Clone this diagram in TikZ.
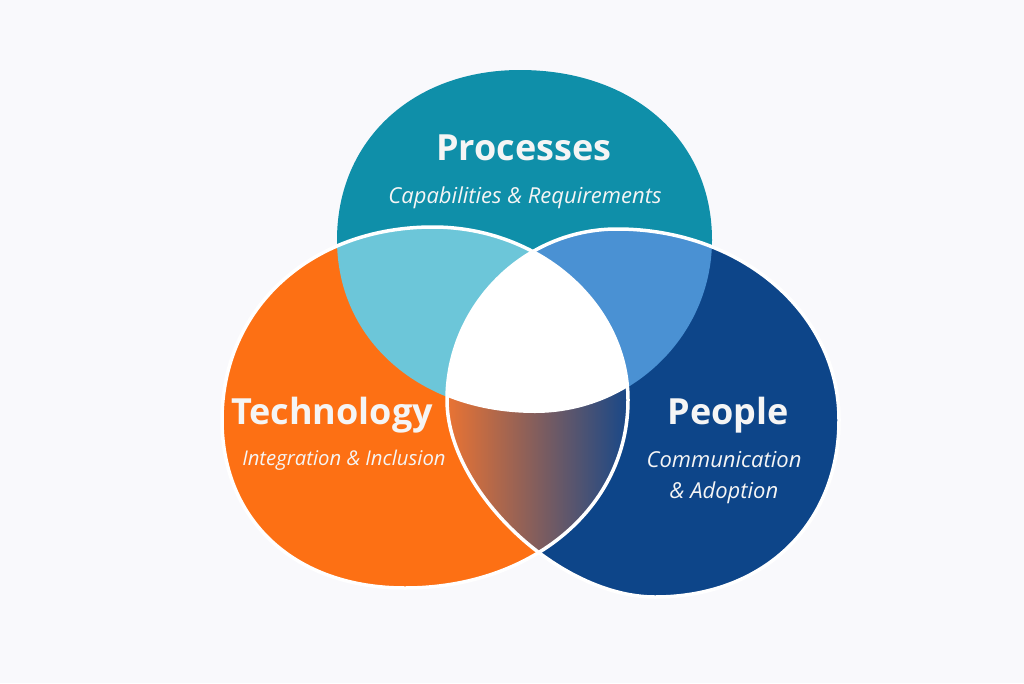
\documentclass[tikz,border=0pt]{standalone}
\usepackage{fontspec}
\setmainfont{Open Sans}
\definecolor{bgc}{HTML}{F9F9FC}
\definecolor{cProc}{HTML}{0F8FA9}
\definecolor{cTech}{HTML}{FD7014}
\definecolor{cPeop}{HTML}{0D4589}
\definecolor{cLight}{HTML}{6CC6D9}
\definecolor{cMed}{HTML}{4A91D3}
\definecolor{gL}{HTML}{F27530}
\definecolor{gM}{HTML}{7E5C7E}
\definecolor{gR}{HTML}{10468B}
\definecolor{txt}{HTML}{F5F5F5}
\begin{document}
\begin{tikzpicture}[x=1pt,y=-1pt,
  title/.style={text=txt, font=\fontsize{36}{40}\selectfont\bfseries, anchor=base, inner sep=0pt},
  sub/.style={text=txt, font=\fontsize{22}{26}\selectfont\itshape, anchor=base, inner sep=0pt},
  sepline/.style={draw=white, line width=3.5pt}]
\useasboundingbox (0,0) rectangle (1024,683);
\fill[bgc] (0,0) rectangle (1024,683);
\def\TopShape{(520,70) .. controls (633.3,70) and (712,139.7) .. (712,240)
  .. controls (712,335.2) and (632.4,413) .. (535,413)
  .. controls (420.2,413) and (337,340.3) .. (337,240)
  .. controls (337,140) and (413,70) .. cycle}
\def\LeftShape{(433,227) .. controls (540.25,227) and (628,304.85) .. (628,400)
  .. controls (628,507.2) and (532.1,588) .. (405,588)
  .. controls (295.2,588) and (222,520.8) .. (222,420)
  .. controls (222,308.1) and (310.6,227) .. cycle}
\def\RightShape{(617,229) .. controls (741.3,229) and (839,313) .. (839,420)
  .. controls (839,524.4) and (763.6,597) .. (655,597)
  .. controls (559.3,597) and (447,490.6) .. (447,400)
  .. controls (447,306) and (523.5,229) .. cycle}
\fill[cProc] \TopShape;
\fill[cTech] \LeftShape;
\fill[cPeop] \RightShape;
\begin{scope}
  \clip \TopShape;
  \fill[cLight] \LeftShape;
  \fill[cMed] \RightShape;
\end{scope}
\begin{scope}
  \clip \LeftShape;
  \clip \RightShape;
  \shade[left color=gL, middle color=gM, right color=gR] (440,380) rectangle (635,600);
  \fill[white] \TopShape;
\end{scope}
\draw[sepline] \LeftShape;
\draw[sepline] \RightShape;
\node[title] (ptitle) at (524,160) {Processes};
\node[sub] (psub) at (525,203) {Capabilities \& Requirements};
\node[title] (ttitle) at (332,424) {Technology};
\node[sub, font=\fontsize{20.3}{24}\selectfont\itshape] (tsub) at (344,465) {Integration \& Inclusion};
\node[title] (otitle) at (728,424) {People};
\node[sub] (osub1) at (724,467) {Communication};
\node[sub] (osub2) at (724,498) {\& Adoption};
\end{tikzpicture}
\end{document}
